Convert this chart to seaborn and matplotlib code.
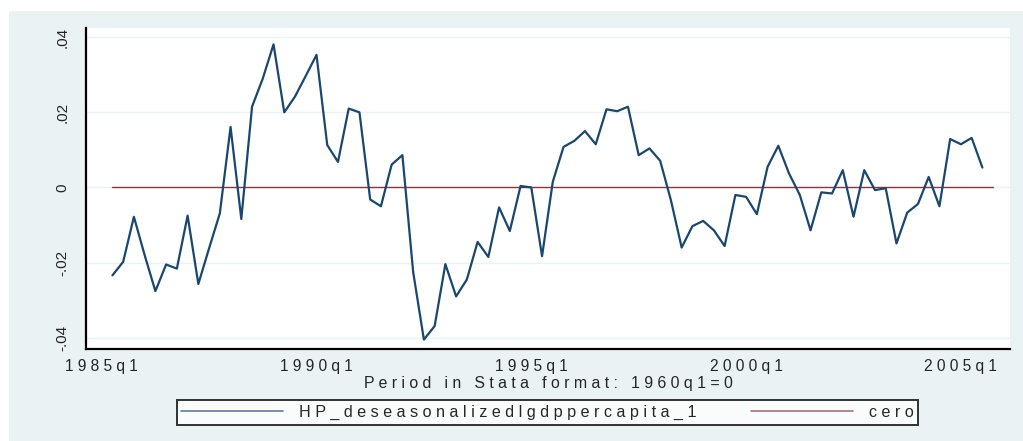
import pandas as pd
import seaborn as sns
import matplotlib.pyplot as plt
from matplotlib.patches import Rectangle

# quarters in Stata format (1960q1 = 0), series starts 1985q2
start_q = 101
hp_series = [
    -0.0234, -0.0198, -0.0078,
    -0.0180, -0.0276, -0.0205, -0.0216,
    -0.0075, -0.0257, -0.0162, -0.0069,
    0.0161, -0.0084, 0.0215, 0.0290,
    0.0381, 0.0200, 0.0242, 0.0297,
    0.0353, 0.0113, 0.0068, 0.0210,
    0.0200, -0.0032, -0.0050, 0.0061,
    0.0086, -0.0225, -0.0405, -0.0369,
    -0.0204, -0.0290, -0.0245, -0.0145,
    -0.0185, -0.0053, -0.0116, 0.0004,
    0.0000, -0.0183, 0.0015, 0.0108,
    0.0124, 0.0150, 0.0115, 0.0208,
    0.0203, 0.0215, 0.0086, 0.0104,
    0.0071, -0.0034, -0.0160, -0.0103,
    -0.0089, -0.0114, -0.0156, -0.0020,
    -0.0025, -0.0071, 0.0055, 0.0111,
    0.0037, -0.0020, -0.0114, -0.0013,
    -0.0016, 0.0046, -0.0078, 0.0046,
    -0.0007, -0.0002, -0.0149, -0.0067,
    -0.0044, 0.0028, -0.0050, 0.0129,
    0.0115, 0.0132, 0.0053,
]
cero = [0.0] * 83  # 1985q2 .. 2005q4

tick_pos = [100, 120, 140, 160, 180]
tick_labels = ["1985q1", "1990q1", "1995q1", "2000q1", "2005q1"]
ytick_pos = [-0.04, -0.02, 0, 0.02, 0.04]
ytick_labels = ["-.04", "-.02", "0", ".02", ".04"]

hp_name = "HP_deseasonalizedlgdppercapita_1"


def spaced(s):
    return " ".join(s)


df_hp = pd.DataFrame({"q": range(start_q, start_q + len(hp_series)), "v": hp_series})
df_cero = pd.DataFrame({"q": range(start_q, start_q + len(cero)), "v": cero})

sns.set_style("white")
plt.rcParams["font.family"] = ["Liberation Sans", "DejaVu Sans"]

navy = "#1a476f"
maroon = "#90353b"
bg = "#eaf2f3"

fig = plt.figure(figsize=(10.23, 4.41), dpi=100, facecolor="white")
fig.patches.append(Rectangle((9 / 1023, 0), 1 - 9 / 1023, 430 / 441,
                             transform=fig.transFigure, facecolor=bg,
                             edgecolor="none", zorder=-10))
ax = fig.add_axes([86 / 1023, 92 / 441, 924 / 1023, 321 / 441])
ax.set_facecolor("white")

sns.lineplot(data=df_cero, x="q", y="v", ax=ax, color=maroon, linewidth=1.0,
             label=spaced("cero"))
sns.lineplot(data=df_hp, x="q", y="v", ax=ax, color=navy, linewidth=1.6,
             label=spaced(hp_name))

ax.set_xlim(98.54, 184.57)
ax.set_ylim(-0.043, 0.04245)
ax.set_xticks(tick_pos)
ax.set_xticklabels([spaced(t) for t in tick_labels], fontsize=11.2)
ax.set_yticks(ytick_pos)
ax.set_yticklabels(ytick_labels, rotation=90, va="center", fontsize=11)
for y in ytick_pos:
    ax.axhline(y, color=bg, linewidth=1.0, zorder=0)

ax.set_xlabel(spaced("Period in Stata format: 1960q1=0"), fontsize=11.4, labelpad=1.5)
ax.set_ylabel("")

for side in ["top", "right"]:
    ax.spines[side].set_visible(False)
for side in ["left", "bottom"]:
    ax.spines[side].set_color("black")
    ax.spines[side].set_linewidth(1.6)
ax.tick_params(axis="both", direction="out", length=5, width=1.6, color="black")
ax.tick_params(axis="y", pad=7)
ax.tick_params(axis="x", pad=2)

handles, labels = ax.get_legend_handles_labels()
ax.get_legend().remove()
leg = fig.legend(handles[::-1], labels[::-1], loc="center",
                 bbox_to_anchor=(547.5 / 1023, 28.5 / 441), ncol=2,
                 frameon=True, fancybox=False, fontsize=11.6,
                 handlelength=6.3, handletextpad=1.0, columnspacing=3.4,
                 borderpad=0.3, borderaxespad=0)
leg.get_frame().set_edgecolor("black")
leg.get_frame().set_linewidth(1.4)
leg.get_frame().set_facecolor("white")
for line in leg.get_lines():
    line.set_linewidth(1.2)
    line.set_alpha(0.7)

fig.savefig("out.png", dpi=100, facecolor="white")
